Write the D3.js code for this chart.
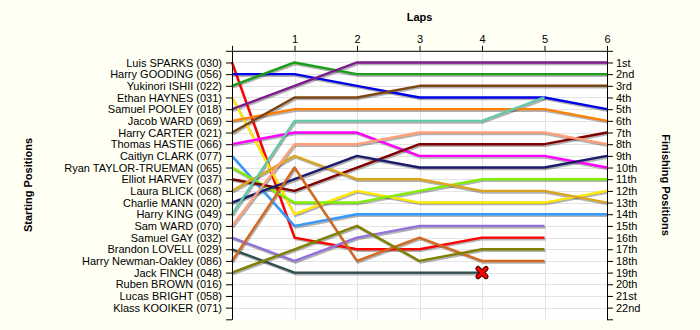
<!DOCTYPE html>
<html>
<head>
<meta charset="utf-8">
<script src="https://cdn.jsdelivr.net/npm/d3@7"></script>
<style>
  html, body { margin: 0; padding: 0; background: #fffff4; }
  svg { display: block; font-family: "Liberation Sans", Arial, sans-serif; }
</style>
</head>
<body>
<svg id="chart" width="700" height="330"></svg>
<script>
// Race lap chart: each driver's running position after every lap.
const laps = [0, 1, 2, 3, 4, 5, 6];

const startLabels = [
  "Luis SPARKS (030)", "Harry GOODING (056)", "Yukinori ISHII (022)", "Ethan HAYNES (031)",
  "Samuel POOLEY (018)", "Jacob WARD (069)", "Harry CARTER (021)", "Thomas HASTIE (066)",
  "Caitlyn CLARK (077)", "Ryan TAYLOR-TRUEMAN (065)", "Elliot HARVEY (037)", "Laura BLICK (068)",
  "Charlie MANN (020)", "Harry KING (049)", "Sam WARD (070)", "Samuel GAY (032)",
  "Brandon LOVELL (029)", "Harry Newman-Oakley (086)", "Jack FINCH (048)", "Ruben BROWN (016)",
  "Lucas BRIGHT (058)", "Klass KOOIKER (071)"
];

const finishLabels = [
  "1st", "2nd", "3rd", "4th", "5th", "6th", "7th", "8th", "9th", "10th", "11th",
  "12th", "13th", "14th", "15th", "16th", "17th", "18th", "19th", "20th", "21st", "22nd"
];

// Position at the end of each lap (index 0 = grid), one row per driver in grid order.
const racePositions = [
  [1, 16, 17, 17, 16, 16],
  [2, 2, 3, 4, 4, 4, 5],
  [3, 1, 2, 2, 2, 2, 2],
  [4, 14, 12, 13, 13, 13, 12],
  [5, 3, 1, 1, 1, 1, 1],
  [6, 5, 5, 5, 5, 5, 6],
  [7, 4, 4, 3, 3, 3, 3],
  [8, 7, 7, 9, 9, 9, 10],
  [9, 15, 14, 14, 14, 14, 14],
  [10, 13, 13, 12, 11, 11, 11],
  [11, 12, 10, 8, 8, 8, 7],
  [12, 9, 11, 11, 12, 12, 13],
  [13, 11, 9, 10, 10, 10, 9],
  [14, 6, 6, 6, 6, 4],
  [15, 8, 8, 7, 7, 7, 8],
  [16, 18, 16, 15, 15, 15],
  [17, 19, 19, 19, 19],
  [18, 10, 18, 16, 18, 18],
  [19, 17, 15, 18, 17, 17],
  [],
  [],
  []
];

// Retirements: driver index and the lap where the car stopped.
const retiredDriver = [16];
const retiredLap = [4];

const palette = [
  "#ff0000", "#0000e6", "#1a9e1a", "#ffe800", "#7d1a8c", "#ff8000", "#7b4512",
  "#ff00ff", "#3399ff", "#80ee00", "#800000", "#daa520", "#1c1c6e", "#66c8a8",
  "#ffa07a", "#9370db", "#2f4f4f", "#d2691e", "#808000", "#888888", "#888888", "#888888"
];

const svg = d3.select("#chart");
const x = d3.scaleLinear().domain([0, 6]).range([232, 607]);
const y = d3.scaleLinear().domain([0, 23]).range([50.8, 319.3]);

// plot area
svg.append("rect")
  .attr("x", x(0)).attr("y", y(0))
  .attr("width", x(6) - x(0)).attr("height", y(23) - y(0))
  .attr("fill", "#ffffff");

// grid
const grid = svg.append("g").attr("stroke", "#e4e4e4").attr("stroke-width", 1);
grid.selectAll("line.h").data(d3.range(1, 23)).join("line")
  .attr("x1", x(0)).attr("x2", x(6))
  .attr("y1", d => Math.round(y(d)) + 0.5).attr("y2", d => Math.round(y(d)) + 0.5);
grid.selectAll("line.v").data(laps.slice(1, 6)).join("line")
  .attr("y1", y(0)).attr("y2", y(23))
  .attr("x1", d => Math.round(x(d)) + 0.5).attr("x2", d => Math.round(x(d)) + 0.5);

const line = d3.line().x((d, i) => x(laps[i])).y(d => y(d));
const series = racePositions.map((p, i) => ({ p, i })).filter(d => d.p.length > 1);

// drop shadows under each trace
svg.append("g")
  .attr("transform", "translate(1,1.6)")
  .selectAll("path").data(series).join("path")
  .attr("d", d => line(d.p))
  .attr("fill", "none")
  .attr("stroke", "rgba(0,0,0,0.3)")
  .attr("stroke-width", 2.4)
  .attr("stroke-linejoin", "round");

svg.append("g")
  .selectAll("path").data(series).join("path")
  .attr("d", d => line(d.p))
  .attr("fill", "none")
  .attr("stroke", d => palette[d.i])
  .attr("stroke-width", 2.4)
  .attr("stroke-linejoin", "round");

// retirement markers
const marks = svg.append("g");
retiredDriver.forEach((drv, k) => {
  const cx = x(retiredLap[k]), cy = y(racePositions[drv][retiredLap[k]]);
  const s = 4;
  const xPath = `M${cx - s},${cy - s}L${cx + s},${cy + s}M${cx + s},${cy - s}L${cx - s},${cy + s}`;
  marks.append("path").attr("d", xPath).attr("stroke", "#400000").attr("stroke-width", 5.2).attr("stroke-linecap", "round");
  marks.append("path").attr("d", xPath).attr("stroke", "#ff0000").attr("stroke-width", 3).attr("stroke-linecap", "round");
});

// axes
const styleAxis = g => {
  g.selectAll("text").attr("font-size", 11).attr("fill", "#000")
    .attr("font-family", "'Liberation Sans', Arial, sans-serif");
  g.selectAll("line, path").attr("stroke", "#000");
};

svg.append("g")
  .attr("transform", `translate(${x(0)},0)`)
  .call(d3.axisLeft(y).tickValues(d3.range(0, 24)).tickSize(6).tickSizeOuter(0).tickPadding(4)
    .tickFormat(d => startLabels[d - 1] || ""))
  .call(styleAxis);

svg.append("g")
  .attr("transform", `translate(${x(6)},0)`)
  .call(d3.axisRight(y).tickValues(d3.range(0, 24)).tickSize(6).tickSizeOuter(0).tickPadding(3)
    .tickFormat(d => finishLabels[d - 1] || ""))
  .call(styleAxis);

svg.append("g")
  .attr("transform", `translate(0,${y(0)})`)
  .call(d3.axisTop(x).tickValues(laps).tickSize(5).tickSizeOuter(0).tickPadding(3)
    .tickFormat(d => d === 0 ? "" : d))
  .call(styleAxis);

// titles
svg.append("text")
  .attr("x", x(3)).attr("y", 21)
  .attr("text-anchor", "middle").attr("font-size", 11).attr("font-weight", "bold")
  .text("Laps");

svg.append("text")
  .attr("transform", `translate(32,${(y(0) + y(23)) / 2}) rotate(-90)`)
  .attr("text-anchor", "middle").attr("font-size", 11).attr("font-weight", "bold")
  .text("Starting Positions");

svg.append("text")
  .attr("transform", `translate(662,${(y(0) + y(23)) / 2}) rotate(90)`)
  .attr("text-anchor", "middle").attr("font-size", 11).attr("font-weight", "bold")
  .text("Finishing Positions");
</script>
</body>
</html>
